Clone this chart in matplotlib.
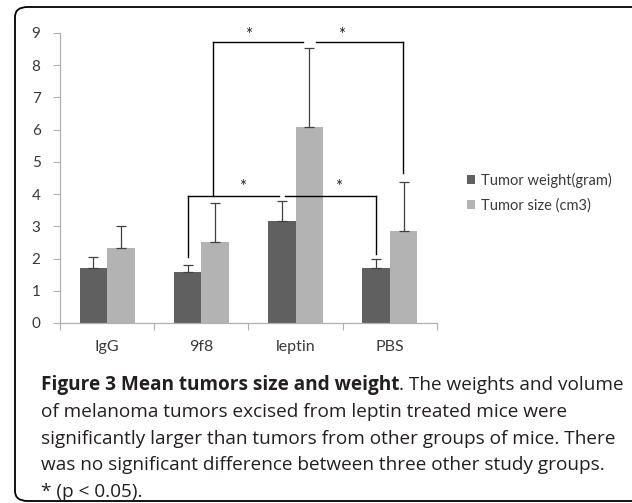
import numpy as np
import matplotlib.pyplot as plt
from matplotlib.patches import FancyBboxPatch

groups = ["IgG", "9f8", "leptin", "PBS"]
weight = [1.70, 1.59, 3.17, 1.70]
weight_err = [0.34, 0.22, 0.62, 0.28]
size = [2.33, 2.52, 6.07, 2.86]
size_err = [0.69, 1.19, 2.47, 1.51]
series_labels = ["Tumor weight(gram)", "Tumor size (cm3)"]
yticks = list(range(0, 10))

# significance brackets (heights in data units)
low_bracket_y = 3.93
low_left_bottom = 2.06
low_right_bottom = 2.14
high_bracket_y = 8.73
high_right_bottom = 4.65
star_high_y = 9.05
star_low_y = 4.34

caption_bold = "Figure 3 Mean tumors size and weight"
caption_lines = [". The weights and volume",
                 "of melanoma tumors excised from leptin treated mice were",
                 "significantly larger than tumors from other groups of mice. There",
                 "was no significant difference between three other study groups.",
                 "* (p < 0.05)."]

plt.rcParams['font.family'] = ['Lato', 'DejaVu Sans']

fig = plt.figure(figsize=(6.32, 5.03), dpi=100)
W, H = 632, 503
ax = fig.add_axes([60 / W, (H - 323) / H, 377 / W, 290 / H])

x = np.arange(len(groups))
bw = 0.292
off = bw / 2
dark = "#606060"
light = "#b3b3b3"
ecol = "#404040"
txtcol = "#3a3a3a"
ax.bar(x - off, weight, bw, color=dark, label=series_labels[0], zorder=2)
ax.bar(x + off, size, bw, color=light, label=series_labels[1], zorder=2)
ax.errorbar(x - off, weight, yerr=[np.zeros(4), weight_err], fmt='none',
            ecolor=ecol, elinewidth=0.9, capsize=3.6, capthick=0.9, zorder=3)
ax.errorbar(x + off, size, yerr=[np.zeros(4), size_err], fmt='none',
            ecolor=ecol, elinewidth=0.9, capsize=3.6, capthick=0.9, zorder=3)

ax.set_xlim(-0.5, 3.5)
ax.set_ylim(0, 9)
ax.set_yticks(yticks)
ax.set_xticks(np.arange(-0.5, 4, 1))
ax.set_xticklabels([])
ax.set_xticks(x, minor=True)
ax.set_xticklabels(groups, minor=True)
ax.tick_params(axis='x', which='major', length=5, color="#b0b0b0", direction='out')
ax.tick_params(axis='x', which='minor', length=0, pad=12, labelsize=11.5, labelcolor=txtcol)
ax.tick_params(axis='y', length=5, color="#b0b0b0", pad=9, labelsize=11, labelcolor=txtcol)
for s in ['top', 'right']:
    ax.spines[s].set_visible(False)
for s in ['left', 'bottom']:
    ax.spines[s].set_color("#b0b0b0")
    ax.spines[s].set_linewidth(0.9)

# brackets
kw = dict(color="black", lw=1.0, clip_on=False, zorder=4)
xl = 1 - off
xr = 3 - off
gap_c = 2 - off
ax.plot([xl, xl], [low_left_bottom, low_bracket_y], **kw)
ax.plot([xl, gap_c - 0.033], [low_bracket_y, low_bracket_y], **kw)
ax.plot([gap_c + 0.033, xr], [low_bracket_y, low_bracket_y], **kw)
ax.plot([xr, xr], [low_bracket_y, low_right_bottom], **kw)
hl = 1 + off - 0.022
hr = 3 + off - 0.01
hgap = 2 + off
ax.plot([hl, hl], [low_bracket_y, high_bracket_y], **kw)
ax.plot([hl, hgap - 0.072], [high_bracket_y, high_bracket_y], **kw)
ax.plot([hgap + 0.075, hr], [high_bracket_y, high_bracket_y], **kw)
ax.plot([hr, hr], [high_bracket_y, high_right_bottom], **kw)
for sx, sy in [(1.495, star_high_y), (2.49, star_high_y), (1.44, star_low_y), (2.45, star_low_y)]:
    ax.text(sx, sy - 0.12, "*", ha='center', va='center', fontsize=12,
            color="#202020", clip_on=False)

leg = ax.legend(loc='center left', bbox_to_anchor=(1.065, 0.45), frameon=False,
                fontsize=10.5, handlelength=0.55, handleheight=0.55, handletextpad=0.4,
                labelspacing=0.7, borderaxespad=0)
for t in leg.get_texts():
    t.set_color(txtcol)

# outer frame, rounded corners on the left side
frame = FancyBboxPatch((15 / W, 2 / H), 700 / W, (H - 9) / H,
                       boxstyle="round,pad=0,rounding_size=0.02",
                       transform=fig.transFigure, fill=False, lw=1.3,
                       edgecolor="black", clip_on=True)
fig.patches.append(frame)

# caption
cap_kw = dict(fontsize=13.7, color="#231f20", va='baseline', family=['Open Sans', 'DejaVu Sans'])
y0 = H - 390
t = fig.text(41 / W, y0 / H, caption_bold, fontweight='bold', **cap_kw)
fig.canvas.draw()
bb = t.get_window_extent()
fig.text(bb.x1 / W, y0 / H, caption_lines[0], **cap_kw)
for i, line in enumerate(caption_lines[1:]):
    fig.text(41 / W, (y0 - 26.8 * (i + 1)) / H, line, **cap_kw)

fig.savefig("out.png", dpi=100)
